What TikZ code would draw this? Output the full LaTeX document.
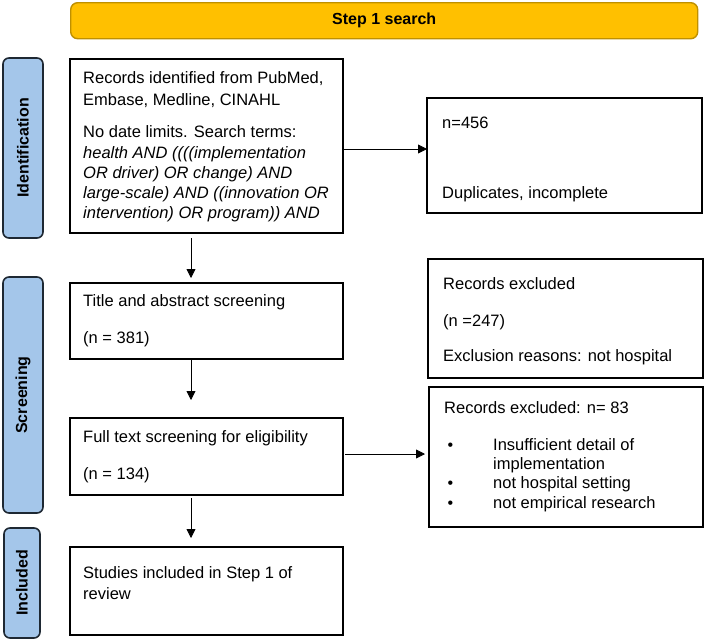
\documentclass[tikz,border=0pt]{standalone}
\usepackage{fontspec}
\setmainfont{Liberation Sans}
\usetikzlibrary{arrows.meta}
\definecolor{barfill}{HTML}{FFC000}
\definecolor{bardraw}{HTML}{BF9000}
\definecolor{labfill}{HTML}{A4C6EA}
\definecolor{labdraw}{HTML}{1E2833}
\begin{document}
\begin{tikzpicture}[x=1pt,y=-1pt,
  box/.style={draw=black, line width=1.6pt, inner sep=0pt, outer sep=0pt, anchor=north west},
  sidelab/.style={draw=labdraw, fill=labfill, line width=1.6pt, rounded corners=6pt, inner sep=0pt, outer sep=0pt, anchor=north west},
  sidetxt/.style={rotate=90, font=\bfseries\fontsize{16}{19}\selectfont, inner sep=0pt},
  txt/.style={anchor=base west, inner sep=0pt, font=\fontsize{16.5}{19}\selectfont},
  itxt/.style={txt, font=\itshape\fontsize{16.5}{19}\selectfont},
  bul/.style={anchor=base, inner sep=0pt, font=\fontsize{16}{19}\selectfont},
  arr/.style={draw=black, line width=0.8pt, -{Triangle[length=9pt,width=9pt]}}
]
\useasboundingbox (0,0) rectangle (704,640);

% top bar
\node[draw=bardraw, fill=barfill, line width=1.4pt, rounded corners=7pt, inner sep=0pt,
      anchor=north west, minimum width=627pt, minimum height=36pt] (bar) at (70,2) {};
\node[font=\bfseries\fontsize{16}{19}\selectfont, inner sep=0pt] (bartxt) at (bar.center) {Step 1 search};

% side labels
\node[sidelab, minimum width=40pt, minimum height=180pt] (labid) at (3,58) {};
\node[sidetxt] (labidtxt) at (labid.center) {Identification};
\node[sidelab, minimum width=40pt, minimum height=236pt] (labsc) at (3,277) {};
\node[sidetxt] (labsctxt) at (labsc.center) {Screening};
\node[sidelab, minimum width=36pt, minimum height=110pt] (labin) at (4,528) {};
\node[sidetxt] (labintxt) at (labin.center) {Included};

% boxes
\node[box, minimum width=273pt, minimum height=174pt] (box1) at (70,59) {};
\node[box, minimum width=275pt, minimum height=115pt] (box456) at (427,98) {};
\node[box, minimum width=273pt, minimum height=76pt] (box2) at (70,283) {};
\node[box, minimum width=275pt, minimum height=119pt] (excl1) at (428,259) {};
\node[box, minimum width=273pt, minimum height=77pt] (box3) at (70,418) {};
\node[box, minimum width=274pt, minimum height=140pt] (excl2) at (429,387) {};
\node[box, minimum width=273pt, minimum height=88pt] (box4) at (70,547) {};

% texts box1
\node[txt] (t11) at (83,83.5) {Records identified from PubMed,};
\node[txt] (t12) at (83,105) {Embase, Medline, CINAHL};
\node[txt] (t13) at (83,137.5) {No date limits. Search terms:};
\node[itxt] (t14) at (83,158.5) {health AND ((((implementation};
\node[itxt] (t15) at (83,178.5) {OR driver) OR change) AND};
\node[itxt] (t16) at (83,198.5) {large-scale) AND ((innovation OR};
\node[itxt] (t17) at (83,218.5) {intervention) OR program)) AND};

% box456
\node[txt] (t21) at (442,128) {n=456};
\node[txt] (t22) at (442,198) {Duplicates, incomplete};

% box2
\node[txt] (t31) at (83,306) {Title and abstract screening};
\node[txt] (t32) at (83,343) {(n = 381)};

% excl1
\node[txt] (t41) at (443,289) {Records excluded};
\node[txt] (t42) at (443,326) {(n =247)};
\node[txt] (t43) at (443,361) {Exclusion reasons: not hospital};

% box3
\node[txt] (t51) at (83,442) {Full text screening for eligibility};
\node[txt] (t52) at (83,479) {(n = 134)};

% excl2
\node[txt] (t61) at (444,413) {Records excluded: n= 83};
\node[bul] (b1) at (450.5,450) {•};
\node[txt] (t62) at (493,450) {Insufficient detail of};
\node[txt] (t63) at (493,469) {implementation};
\node[bul] (b2) at (450.5,488) {•};
\node[txt] (t64) at (493,488) {not hospital setting};
\node[bul] (b3) at (450.5,508) {•};
\node[txt] (t65) at (493,508) {not empirical research};

% box4
\node[txt] (t71) at (83,578) {Studies included in Step 1 of};
\node[txt] (t72) at (83,599) {review};

% arrows
\draw[arr] ([yshift=-3pt]box1.east) -- ([yshift=-3pt]box1.east -| box456.west);
\draw[arr] ([xshift=-15.5pt,yshift=-5pt]box1.south) -- ([xshift=-15.5pt,yshift=5pt]box2.north);
\draw[arr] ([xshift=-15.5pt,yshift=-1pt]box2.south) -- ([xshift=-15.5pt,yshift=18pt]box3.north);
\draw[arr] ([xshift=-15.5pt,yshift=-3pt]box3.south) -- ([xshift=-15.5pt,yshift=9pt]box4.north);
\draw[arr] ([xshift=2pt,yshift=2.5pt]box3.east) -- ([xshift=-4pt,yshift=2.5pt]box3.east -| excl2.west);
\end{tikzpicture}
\end{document}
